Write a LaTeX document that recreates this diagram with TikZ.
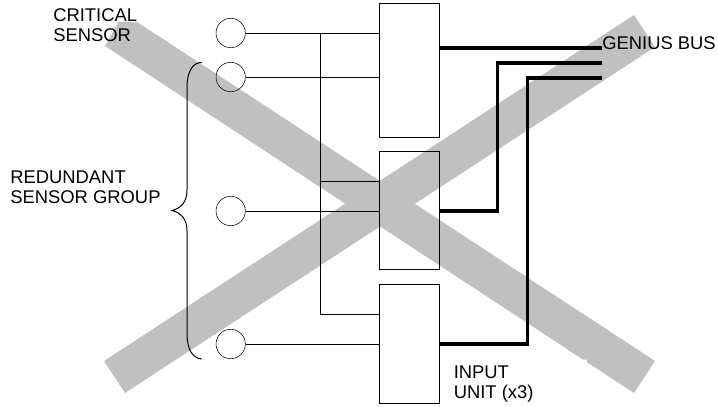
\documentclass[tikz,border=0pt]{standalone}
\usepackage{fontspec}
\setmainfont{Liberation Sans}
\usetikzlibrary{positioning}
\definecolor{crossgray}{RGB}{192,192,192}
\tikzset{unitbox/.style={rectangle,draw,minimum width=45pt,inner sep=0pt},sensor/.style={circle,draw,minimum size=22pt,inner sep=0pt},wire/.style={line width=.75pt},bus/.style={line width=2.4pt},label/.style={align=left,inner sep=0pt,font=\fontsize{13.8}{15}\selectfont}}
\begin{document}
\begin{tikzpicture}[x=.75pt,y=-.75pt,node distance=10.5pt]
\useasboundingbox (0,0) rectangle (718,407);
% the grey cross goes under everything
\fill[crossgray] (118.5,22) -- (137,22) -- (655,361) -- (634,393) -- (587,362.2) -- (587,359.5) -- (583,359.5) -- (105,46) -- cycle;
\fill[crossgray] (634,15) -- (655,47) -- (125,393) -- (104,361) -- cycle;
% input units
\node[unitbox, minimum height=100pt, anchor=north west] (top) at (379,3.3) {};
\node[unitbox, minimum height=88.7pt, below=of top] (mid) {};
\node[unitbox, minimum height=89.5pt, below=of mid] (low) {};
% sensors
\node[sensor] (s1) at (230.7,33) {};
\node[sensor] (s2) at (230.7,77) {};
\node[sensor] (s3) at (230.7,211) {};
\node[sensor] (s4) at (230.7,344) {};
\coordinate (j) at (320,33);
\draw[wire] (s1) -- (top.west |- s1);
\draw[wire] (s2) -- (top.west |- s2);
\draw[wire] (s3) -- (mid.west |- s3);
\draw[wire] (s4) -- (low.west |- s4);
\draw[wire] (j) |- (low.west |- 0,314);
\draw[wire] (j |- 0,181) -- (mid.west |- 0,181);
% bus lines
\coordinate (b1) at (601.7,48);
\coordinate (b2) at (601.7,63);
\coordinate (b3) at (601.7,78);
\draw[bus] (top.east |- b1) -- (b1);
\draw[bus] (mid.east |- 0,211) -| (497.3,63) -- (b2);
\draw[bus] (low.east |- 0,344) -| (527.3,78) -- (b3);
% brace
\coordinate (g1) at (201.7,62.3);
\coordinate (g2) at (172,210.5);
\coordinate (g3) at (201.7,359);
\draw[wire] (g1) .. controls (192,63) and (187,72) .. (187,88) -- (187,190) .. controls (187,201) and (182,208) .. (g2) .. controls (182,213) and (187,220) .. (187,231) -- (187,333) .. controls (187,349) and (192,358) .. (g3);
% labels
\node[label, anchor=base west] (crit) at (53,41.7) {CRITICAL\\SENSOR};
\node[label, anchor=base west] (red) at (10,203) {REDUNDANT\\SENSOR GROUP};
\node[label, anchor=base west] (gen) at (602,50) {GENIUS BUS};
\node[label, anchor=base west] (inp) at (453.5,398) {INPUT\\UNIT (x3)};
\end{tikzpicture}
\end{document}
